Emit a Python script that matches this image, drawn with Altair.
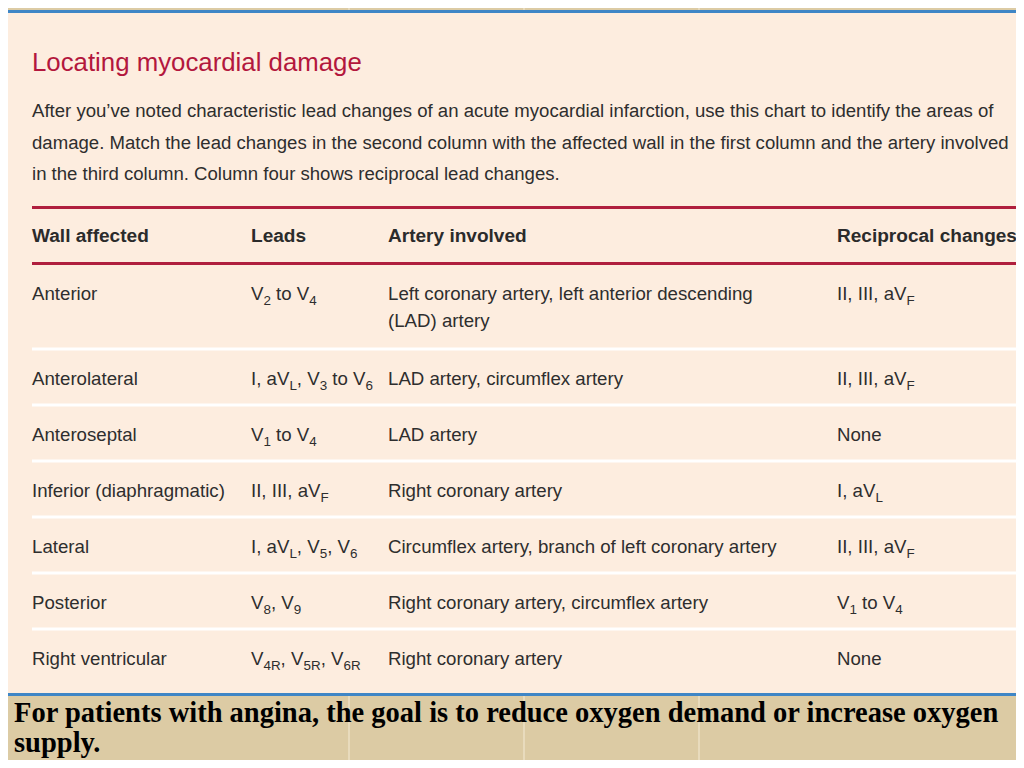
import re
import altair as alt
import pandas as pd

# ---------------- data (content only) ----------------
title = "Locating myocardial damage"
intro_lines = [
    "After you\u2019ve noted characteristic lead changes of an acute myocardial infarction, use this chart to identify the areas of",
    "damage. Match the lead changes in the second column with the affected wall in the first column and the artery involved",
    "in the third column. Column four shows reciprocal lead changes.",
]
headers = ["Wall affected", "Leads", "Artery involved", "Reciprocal changes"]
walls = ["Anterior", "Anterolateral", "Anteroseptal", "Inferior (diaphragmatic)",
         "Lateral", "Posterior", "Right ventricular"]
leads = ["V_{2} to V_{4}", "I, aV_{L}, V_{3} to V_{6}", "V_{1} to V_{4}", "II, III, aV_{F}",
         "I, aV_{L}, V_{5}, V_{6}", "V_{8}, V_{9}", "V_{4R}, V_{5R}, V_{6R}"]
arteries = ["Left coronary artery, left anterior descending\n(LAD) artery",
            "LAD artery, circumflex artery", "LAD artery", "Right coronary artery",
            "Circumflex artery, branch of left coronary artery",
            "Right coronary artery, circumflex artery", "Right coronary artery"]
reciprocal = ["II, III, aV_{F}", "II, III, aV_{F}", "None", "I, aV_{L}",
              "II, III, aV_{F}", "V_{1} to V_{4}", "None"]
footer_lines = ["For patients with angina, the goal is to reduce oxygen demand or increase oxygen",
                "supply."]

# ---------------- layout ----------------
W, H = 1008, 752
OX, OY = 8, 8
COL_X = [32, 251, 388, 837]
RULE_X0, RULE_X1 = 32, 1017
ROW_TOPS = [264, 349, 405, 461, 517, 573, 629]
ROW_BASE = 36
LINE_GAP = 27
SUB_RATIO, SUB_DY = 0.72, 5
FOOT_SIZE = 28.5
FOOT_GAP = 30

# Arial / Liberation Sans advance widths (1/1000 em)
REG = {' ': 278, ',': 278, '.': 278, '(': 333, ')': 333, '\u2019': 222, "'": 191,
       'A': 667, 'B': 667, 'C': 722, 'D': 722, 'E': 667, 'F': 611, 'G': 778, 'H': 722,
       'I': 278, 'J': 500, 'K': 667, 'L': 556, 'M': 833, 'N': 722, 'O': 778, 'P': 667,
       'Q': 778, 'R': 722, 'S': 667, 'T': 611, 'U': 722, 'V': 667, 'W': 944, 'X': 667,
       'Y': 667, 'Z': 611, 'a': 556, 'b': 556, 'c': 500, 'd': 556, 'e': 556, 'f': 278,
       'g': 556, 'h': 556, 'i': 222, 'j': 222, 'k': 500, 'l': 222, 'm': 833, 'n': 556,
       'o': 556, 'p': 556, 'q': 556, 'r': 333, 's': 500, 't': 278, 'u': 556, 'v': 500,
       'w': 722, 'x': 500, 'y': 500, 'z': 500}
for d in "0123456789":
    REG[d] = 556
BOLD = dict(REG)
BOLD.update({'A': 722, 'L': 611, 'W': 944, 'R': 722, 'b': 611, 'd': 611, 'f': 333,
             'g': 611, 'h': 611, 'i': 278, 'l': 278, 'm': 889, 'n': 611, 'o': 611,
             'p': 611, 'r': 389, 's': 556, 't': 333, 'u': 611, 'v': 556, 'w': 778,
             'y': 556, 'c': 556, 'x': 556})


def em_width(s, bold=False):
    t = BOLD if bold else REG
    return sum(t.get(ch, 556) for ch in s) / 1000.0


BODY_SIZE = 390 / em_width(arteries[4])
HEAD_SIZE = 180 / em_width(headers[3], True)
PARA_SIZE = 978 / em_width(intro_lines[1])
TITLE_SIZE = 330 / em_width(title)


def runs(cell):
    out = []
    for p in re.split(r"(_\{[^}]*\})", cell):
        if not p:
            continue
        if p.startswith("_{"):
            out.append((p[2:-1], True))
        else:
            out.append((p, False))
    return out


def place(cell, x, y, size, rows):
    cx = x
    for txt, sub in runs(cell):
        s = size * SUB_RATIO if sub else size
        lead = len(txt) - len(txt.lstrip(' '))
        cx += lead * 0.278 * s
        body = txt.lstrip(' ')
        if body.strip():
            rows.append(dict(x=cx, y=y + (SUB_DY if sub else 0), text=body, size=s))
        cx += em_width(body) * s


# regular dark text (paragraph + table body)
reg_rows = []
for i, line in enumerate(intro_lines):
    reg_rows.append(dict(x=32, y=117 + i * 31.5, text=line, size=PARA_SIZE))
for i in range(len(walls)):
    base = ROW_TOPS[i] + ROW_BASE
    place(walls[i], COL_X[0], base, BODY_SIZE, reg_rows)
    place(leads[i], COL_X[1], base, BODY_SIZE, reg_rows)
    for j, ln in enumerate(arteries[i].split("\n")):
        place(ln, COL_X[2], base + j * LINE_GAP, BODY_SIZE, reg_rows)
    place(reciprocal[i], COL_X[3], base, BODY_SIZE, reg_rows)
reg_df = pd.DataFrame(reg_rows)

head_df = pd.DataFrame([dict(x=COL_X[k], y=242, text=h, size=HEAD_SIZE) for k, h in enumerate(headers)])
title_df = pd.DataFrame([dict(x=32, y=71, text=title, size=TITLE_SIZE)])
foot_df = pd.DataFrame([dict(x=14, y=722 + i * FOOT_GAP, text=t, size=FOOT_SIZE)
                        for i, t in enumerate(footer_lines)])

panel_df = pd.DataFrame([dict(x=2, x2=1040, y=11.5, y2=694.5)])
red_df = pd.DataFrame([dict(x=RULE_X0, x2=RULE_X1, y=206, y2=209),
                       dict(x=RULE_X0, x2=RULE_X1, y=262, y2=265)])
sep_df = pd.DataFrame([dict(x=RULE_X0, x2=RULE_X1, y=b - 1.5, y2=b + 1.5) for b in ROW_TOPS[1:]])
seam_df = pd.DataFrame(dict(x=[349, 524, 699]))

xs = alt.Scale(domain=[OX, OX + W], nice=False, zero=False)
ys = alt.Scale(domain=[OY, OY + H], nice=False, zero=False, reverse=True)


def X(f="x"):
    return alt.X(f + ":Q", scale=xs, axis=None)


def Y(f="y"):
    return alt.Y(f + ":Q", scale=ys, axis=None)


seams = alt.Chart(seam_df).mark_rule(color="#f4ecd8", strokeWidth=1.2, opacity=0.8).encode(
    x=X(), y=alt.value(0), y2=alt.value(H))
panel = alt.Chart(panel_df).mark_rect(fill="#fdeddf", stroke="#3f86c6", strokeWidth=3, clip=True).encode(
    x=X(), x2="x2:Q", y=Y(), y2="y2:Q")
reds = alt.Chart(red_df).mark_rect(color="#b01f3e").encode(x=X(), x2="x2:Q", y=Y(), y2="y2:Q")
seps = alt.Chart(sep_df).mark_rect(color="#ffffff").encode(x=X(), x2="x2:Q", y=Y(), y2="y2:Q")


def text_layer(df, **kw):
    return alt.Chart(df).mark_text(align="left", baseline="alphabetic", **kw).encode(
        x=X(), y=Y(), text="text:N", size=alt.Size("size:Q", scale=None, legend=None))


title_l = text_layer(title_df, font="Liberation Sans", color="#b3173d")
reg_l = text_layer(reg_df, font="Liberation Sans", color="#2e2e2e")
head_l = text_layer(head_df, font="Liberation Sans", fontWeight="bold", color="#2b2b2b")
foot_l = text_layer(foot_df, font="Liberation Serif", fontWeight="bold", color="#000000")

chart = alt.layer(seams, panel, reds, seps, title_l, reg_l, head_l, foot_l).properties(
    width=W, height=H, padding=0,
    autosize=alt.AutoSizeParams(type="none"),
).configure(background="#dccba4").configure_view(stroke=None)

chart.save("out.html", embed_options={"renderer": "svg", "actions": False})
